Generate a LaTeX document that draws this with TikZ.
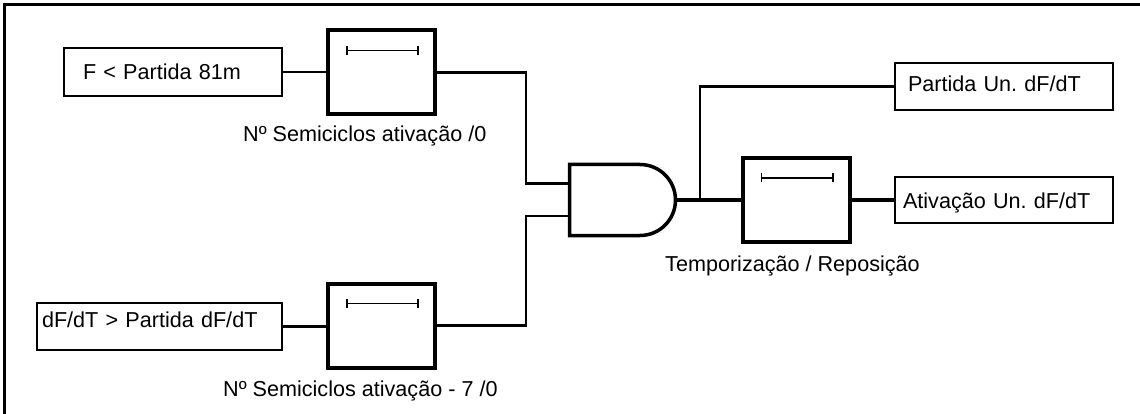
\documentclass[tikz,border=0pt]{standalone}
\usepackage{fontspec}
\setmainfont{Liberation Sans}
\usetikzlibrary{arrows.meta,shapes.misc,calc}
\tikzset{
  iobox/.style n args={4}{draw, line width=1.8, anchor=north west, outer sep=0,
    inner ysep=0, inner xsep=#1, text width=#2, text height=#3, text depth=#4, align=left},
  timer/.style={draw, line width=4, minimum width=107, minimum height=84, inner sep=0, outer sep=0,
    path picture={\draw[line width=1.8, {Bar[width=9pt]}-{Bar[width=9pt]}]
      ([xshift=18,yshift=-20]path picture bounding box.north west) --
      ([xshift=-16,yshift=-20]path picture bounding box.north east);}},
  andgate/.style={draw, line width=3.5, rounded rectangle, rounded rectangle left arc=none,
    minimum width=106, minimum height=71, inner sep=0, outer sep=0},
  wire/.style={line width=2.8},
  owire/.style={line width=3.6},
  lbl/.style={anchor=base west, inner sep=0},
}
\frenchspacing
\begin{document}
\begin{tikzpicture}[x=1pt,y=-1pt,font=\fontsize{21.6}{26}\selectfont]
\useasboundingbox (0,0) rectangle (1140,414);
\draw[line width=3] (4.5,414) -- (4.5,4.5) -- (1140,4.5);

% input boxes
\node[iobox={19}{180}{32}{16}] (f) at (64,48) {F < Partida 81m};
\node[iobox={5}{235}{24}{23}] (df) at (37,303) {dF/dT > Partida dF/dT};
% output boxes
\node[iobox={13}{192}{29}{18}] (pu) at (895,63) {Partida Un. dF/dT};
\node[iobox={8}{202}{31}{15}] (au) at (895,177) {Ativação Un. dF/dT};

% timers
\node[timer] (t1) at (381.5,72.5) {};
\node[timer] (t2) at (381.5,325.5) {};
\node[timer] (t3) at (796,200) {};

% and gate
\node[andgate] (gate) at (622.5,200) {};
\coordinate (gin1) at ([yshift=16.5]gate.west);
\coordinate (gin2) at ([yshift=-16]gate.west);
\coordinate (bx) at (700,0);
\coordinate (br) at (gate.east -| bx);

% labels
\node[lbl] (l1) at (243,142) {Nº Semiciclos ativação /0};
\node[lbl] (l2) at (223,396) {Nº Semiciclos ativação - 7 /0};
\node[lbl] (l3) at (665,271) {Temporização / Reposição};

% wires
\draw[wire] (f.east) -- (f.east -| t1.west);
\draw[wire] (df.east) -- (df.east -| t2.west);
\draw[wire] (t1.east) -- ++(91,0) |- (gin1);
\draw[wire] (t2.east) -- ++(91,0) |- (gin2);
\draw[owire] (gate.east) -- (t3.west);
\draw[wire] (br) |- (pu.west);
\draw[owire] (t3.east) -- (t3.east -| au.west);
\end{tikzpicture}
\end{document}
